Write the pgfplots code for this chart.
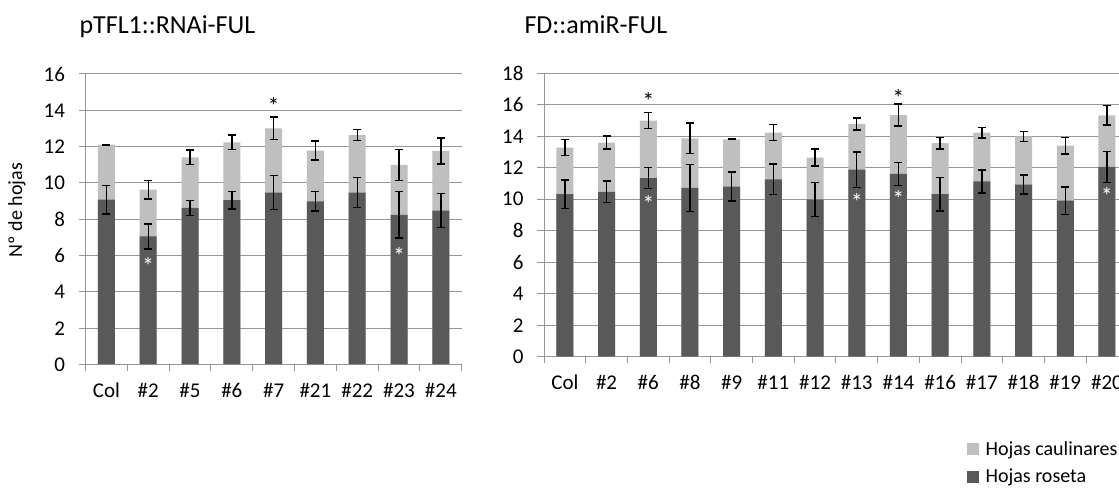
\documentclass[border=0pt]{standalone}
\usepackage{fontspec}
\setmainfont{Carlito}
\usepackage{pgfplots}
\pgfplotsset{compat=1.18}
\usepackage{pgfplotstable}

\definecolor{lightbar}{RGB}{191,191,191}
\definecolor{darkbar}{RGB}{89,89,89}
\definecolor{gridc}{RGB}{150,150,150}

\pgfplotstableread{
x tot etot ros eros
0 12.11 0.02 9.08 0.78
1 9.63 0.52 7.05 0.69
2 11.41 0.41 8.62 0.40
3 12.24 0.39 9.05 0.48
4 13.01 0.62 9.47 0.94
5 11.78 0.52 8.99 0.54
6 12.64 0.31 9.47 0.83
7 10.99 0.85 8.24 1.28
8 11.76 0.72 8.48 0.94
}\leftdata

\pgfplotstableread{
x tot etot ros eros
0 13.28 0.50 10.32 0.90
1 13.60 0.42 10.47 0.69
2 15.00 0.50 11.35 0.68
3 13.87 0.97 10.72 1.50
4 13.81 0.02 10.80 0.92
5 14.23 0.51 11.27 0.97
6 12.65 0.54 10.00 1.08
7 14.78 0.38 11.88 1.12
8 15.35 0.69 11.61 0.73
9 13.56 0.38 10.32 1.07
10 14.23 0.33 11.14 0.73
11 14.00 0.32 10.93 0.60
12 13.41 0.53 9.92 0.87
13 15.33 0.62 12.05 0.98
}\rightdata

\tikzset{sig/.style={font=\fontsize{24}{28}\selectfont, yshift=-5pt}}

\pgfplotsset{
  common/.style={
    scale only axis,
    anchor=south west,
    ybar, bar width=17pt,
    axis x line*=bottom, axis y line*=left,
    axis line style={gridc, line width=1pt, -},
    ymajorgrids, major grid style={gridc, line width=1pt},
    ymin=0, ytick distance=2,
    tick align=outside,
    major tick length=7pt,
    minor tick length=6pt,
    tick style={gridc, line width=1pt},
    major x tick style={draw=none},
    tick label style={font=\fontsize{21}{25}\selectfont, black},
    yticklabel style={xshift=-10pt},
    xticklabel style={yshift=-8pt},
    /pgf/number format/assume math mode=true,
    clip=false,
  },
  barerr/.style={
    bar shift=0pt, draw=none,
    error bars/.cd, y dir=both, y explicit,
    error bar style={line width=1.4pt, black},
    error mark options={rotate=90, mark size=4pt, line width=1.4pt, black},
  },
}

\begin{document}
\begin{tikzpicture}
% titles and y label
\node[anchor=base west, font=\fontsize{26}{30}\selectfont] at (76pt,456pt) {pTFL1::RNAi-FUL};
\node[anchor=base west, font=\fontsize{26}{30}\selectfont] at (521pt,456pt) {FD::amiR-FUL};
\node[rotate=90, font=\fontsize{20}{24}\selectfont] at (17pt,280pt) {Nº de hojas};

\begin{axis}[common,
  at={(85.5pt,125.5pt)}, width=376.2pt, height=290.5pt,
  xmin=-0.5, xmax=8.5, ymax=16,
  xtick={0,...,8},
  xticklabels={Col,\#2,\#5,\#6,\#7,\#21,\#22,\#23,\#24},
  minor xtick={-0.5,0.5,...,8.5},
]
\addplot[fill=lightbar, barerr] table[x=x, y=tot, y error=etot] {\leftdata};
\addplot[fill=darkbar, barerr] table[x=x, y=ros, y error=eros] {\leftdata};
\node[sig, black] at (axis cs:4,14.53) {*};
\node[sig, white] at (axis cs:1,5.72) {*};
\node[sig, white] at (axis cs:7,6.24) {*};
\end{axis}

\begin{axis}[common,
  at={(544pt,133.3pt)}, width=583.8pt, height=283.4pt,
  xmin=-0.5, xmax=13.5, ymax=18,
  xtick={0,...,13},
  xticklabels={Col,\#2,\#6,\#8,\#9,\#11,\#12,\#13,\#14,\#16,\#17,\#18,\#19,\#20},
  minor xtick={-0.5,0.5,...,13.5},
  legend style={at={(axis description cs:0.7246,-0.2904)}, anchor=north west,
    draw=none, fill=none, font=\fontsize{20}{24}\selectfont,
    row sep=8pt, inner sep=0pt, cells={anchor=west},
    /tikz/every odd column/.append style={column sep=5pt}},
]
\addlegendimage{legend image code/.code={\fill[lightbar] (0pt,-5.5pt) rectangle (11pt,5.5pt);}}
\addlegendentry{Hojas caulinares}
\addlegendimage{legend image code/.code={\fill[darkbar] (0pt,-5.5pt) rectangle (11pt,5.5pt);}}
\addlegendentry{Hojas roseta}
\addplot[forget plot, fill=lightbar, barerr] table[x=x, y=tot, y error=etot] {\rightdata};
\addplot[forget plot, fill=darkbar, barerr] table[x=x, y=ros, y error=eros] {\rightdata};
\node[sig, black] at (axis cs:2,16.56) {*};
\node[sig, black] at (axis cs:8,16.77) {*};
\node[sig, white] at (axis cs:2,10.04) {*};
\node[sig, white] at (axis cs:7,10.17) {*};
\node[sig, white] at (axis cs:8,10.32) {*};
\node[sig, white] at (axis cs:13,10.53) {*};
\end{axis}
\pgfresetboundingbox
\path[use as bounding box] (0pt,0pt) rectangle (1119pt,490pt);
\end{tikzpicture}
\end{document}
